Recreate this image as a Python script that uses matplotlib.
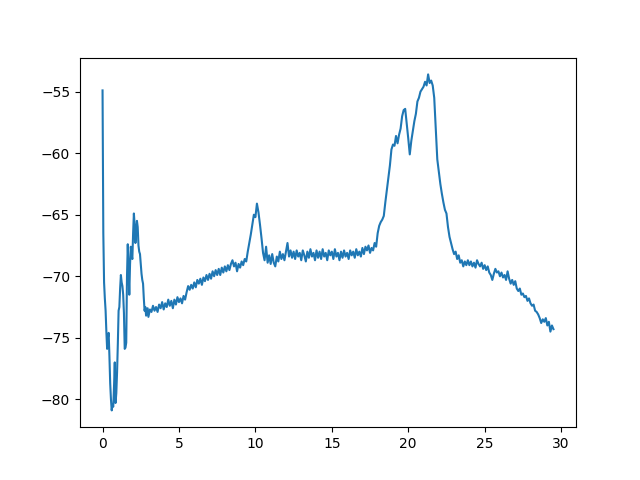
import numpy as np
import matplotlib
matplotlib.use('Agg')
import matplotlib.pyplot as plt

# 前 3 个单位 0.05 步长 (细节多), 之后 0.1 步长
x_head = np.round(np.arange(0, 3.0, 0.05), 2)
y_head = [-54.9, -66.5, -70.5, -71.8, -72.8, -74.5, -75.9, -75.0, -74.6, -76.5,
          -78.7, -80.0, -80.9, -80.4, -80.6, -79.0, -77.0, -80.3, -79.5, -77.8,
          -75.5, -72.8, -72.5, -71.0, -69.9, -70.5, -70.8, -71.5, -73.0, -75.9,
          -75.8, -75.4, -70.0, -67.4, -69.5, -71.5, -69.0, -67.6, -68.3, -68.6,
          -66.5, -64.9, -65.8, -67.3, -66.5, -65.5, -66.0, -67.5, -68.0, -68.2,
          -69.0, -69.8, -70.3, -70.6, -71.8, -72.8, -72.5, -73.2, -72.9, -72.6]

x_tail = np.round(np.arange(3.0, 29.55, 0.1), 2)
y_tail = [
    -73.3, -72.7, -72.9, -72.4, -72.8, -72.5, -72.9, -72.3, -72.6, -72.1,   # 3.0
    -72.7, -72.2, -72.5, -71.9, -72.4, -72.0, -72.6, -71.9, -72.3, -71.7,   # 4.0
    -72.1, -71.8, -72.2, -71.6, -71.9, -71.3, -70.8, -71.1, -70.7, -71.0,   # 5.0
    -70.5, -70.9, -70.3, -70.6, -70.2, -70.7, -70.1, -70.4, -69.9, -70.3,   # 6.0
    -69.8, -70.2, -69.6, -70.0, -69.5, -69.9, -69.4, -69.9, -69.3, -69.7,   # 7.0
    -69.2, -69.6, -69.1, -69.5, -69.0, -68.7, -69.2, -68.9, -69.6, -69.0,   # 8.0
    -69.3, -68.8, -69.1, -68.6, -68.8, -68.0, -67.3, -66.6, -65.8, -65.0,   # 9.0
    -65.2, -64.1, -64.8, -65.8, -66.9, -68.1, -68.7, -67.6, -68.9, -68.3,   # 10.0
    -69.0, -68.2, -68.9, -69.2, -68.4, -68.8, -68.0, -68.6, -68.2, -68.7,   # 11.0
    -68.0, -67.3, -68.4, -67.9, -68.5, -68.0, -68.6, -67.9, -68.4, -68.1,   # 12.0
    -68.7, -67.9, -68.3, -68.8, -68.0, -68.5, -67.8, -68.4, -68.1, -68.7,   # 13.0
    -67.9, -68.5, -68.0, -68.6, -67.8, -68.4, -68.1, -68.7, -67.9, -68.3,   # 14.0
    -68.0, -68.6, -67.8, -68.4, -68.1, -68.7, -68.0, -68.5, -67.9, -68.4,   # 15.0
    -68.1, -68.6, -67.9, -68.3, -68.0, -68.5, -67.8, -68.3, -68.0, -68.4,   # 16.0
    -67.7, -68.2, -67.6, -67.9, -67.5, -68.1, -67.7, -67.9, -67.3, -67.6,   # 17.0
    -66.5, -65.9, -65.6, -65.4, -65.1, -64.0, -63.0, -62.0, -61.0, -59.7,   # 18.0
    -59.3, -59.4, -58.6, -59.2, -58.5, -58.0, -57.0, -56.5, -56.4, -57.6,   # 19.0
    -58.8, -60.1, -59.0, -58.2, -57.4, -56.8, -55.8, -55.5, -55.0, -54.8,   # 20.0
    -54.6, -54.2, -54.5, -53.6, -54.3, -54.1, -54.5, -55.5, -58.0, -60.5,   # 21.0
    -61.5, -62.5, -63.3, -64.0, -64.6, -64.9, -66.0, -66.8, -67.3, -67.8,   # 22.0
    -68.2, -68.0, -68.6, -68.3, -68.9, -68.7, -69.2, -68.8, -69.1, -68.7,   # 23.0
    -69.1, -68.8, -69.2, -68.9, -69.3, -68.7, -69.0, -69.2, -68.9, -69.4,   # 24.0
    -69.1, -69.5, -69.2, -69.7, -69.9, -70.3, -69.8, -69.4, -69.7, -69.6,   # 25.0
    -70.0, -69.7, -70.1, -69.9, -70.3, -69.6, -70.2, -70.6, -70.3, -70.7,   # 26.0
    -70.4, -71.0, -71.2, -71.0, -71.5, -71.4, -71.7, -71.6, -72.0, -71.8,   # 27.0
    -72.2, -72.4, -72.3, -72.8, -72.9, -73.1, -73.4, -73.8, -73.5, -73.7,   # 28.0
    -73.4, -74.0, -73.7, -74.5, -74.0, -74.3,                               # 29.0
]

x = np.concatenate([x_head, x_tail])
y = np.array(y_head + y_tail)

fig, ax = plt.subplots(figsize=(6.4, 4.8), dpi=100)
ax.plot(x, y, color='#1f77b4', lw=1.5)
plt.savefig('out.png', dpi=100)
